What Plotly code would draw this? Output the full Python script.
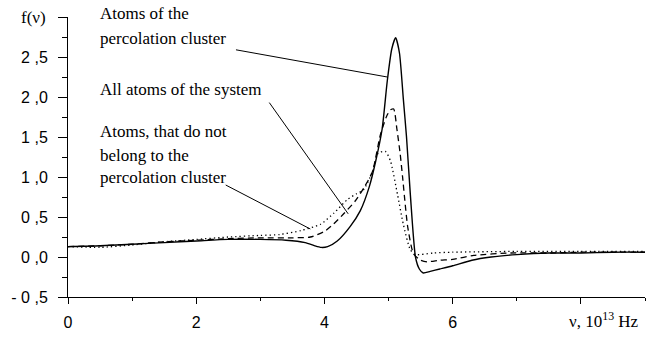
import plotly.graph_objects as go

# Atoms of the percolation cluster (solid)
x_perc = [0, 0.5, 1, 1.5, 2, 2.5, 3, 3.4, 3.7, 3.85, 3.95, 4.05, 4.2, 4.4, 4.56, 4.7, 4.8, 4.9, 4.98,
          5.05, 5.11, 5.17, 5.23, 5.28, 5.34, 5.42, 5.48, 5.54, 5.65, 5.8, 6.0, 6.3, 6.6, 7.0, 7.5, 8, 8.5, 9]
y_perc = [0.13, 0.14, 0.16, 0.18, 0.2, 0.22, 0.22, 0.21, 0.18, 0.14, 0.12, 0.13, 0.2, 0.38, 0.58, 0.88, 1.2, 1.6, 2.2,
          2.6, 2.74, 2.55, 1.98, 1.5, 0.78, 0.0, -0.15, -0.2, -0.18, -0.15, -0.11, -0.04, 0.0, 0.03, 0.05, 0.05, 0.06, 0.06]

# All atoms of the system (dashed)
x_all = [0, 0.5, 1, 1.5, 2, 2.5, 3, 3.5, 3.78, 4.0, 4.14, 4.3, 4.48, 4.62, 4.75, 4.87, 4.97, 5.03, 5.08,
         5.13, 5.18, 5.22, 5.3, 5.39, 5.5, 5.6, 5.8, 6.0, 6.33, 6.9, 7.5, 8, 9]
y_all = [0.13, 0.14, 0.16, 0.19, 0.21, 0.23, 0.24, 0.24, 0.25, 0.32, 0.41, 0.54, 0.7, 0.87, 1.07, 1.52, 1.76, 1.84, 1.85,
         1.6, 1.3, 0.99, 0.37, 0.04, -0.04, -0.06, -0.04, -0.03, 0.02, 0.05, 0.05, 0.06, 0.06]

# Atoms not belonging to the percolation cluster (dotted)
x_non = [0, 0.5, 1, 1.5, 2, 2.5, 3, 3.3, 3.63, 3.94, 4.15, 4.36, 4.5, 4.61, 4.75, 4.84, 4.95, 5.03, 5.14,
         5.23, 5.34, 5.42, 5.7, 6, 7, 8, 9]
y_non = [0.13, 0.12, 0.15, 0.19, 0.22, 0.25, 0.27, 0.28, 0.33, 0.41, 0.55, 0.72, 0.79, 0.84, 1.07, 1.3, 1.32, 1.2, 0.78,
         0.41, 0.09, 0.03, 0.05, 0.06, 0.07, 0.07, 0.07]

y_tickvals = [-0.5, 0.0, 0.5, 1.0, 1.5, 2.0, 2.5, 3.0]
y_ticktext = ["- 0 ,5", "0 ,0", "0 ,5", "1 ,0", "1 ,5", "2 ,0", "2 ,5", ""]
x_tickvals = [0, 2, 4, 6, 8]
x_ticktext = ["0", "2", "4", "6", ""]

SERIF = "Liberation Serif, Times New Roman, serif"
SANS = "Liberation Sans, Arial, sans-serif"

Y0, Y1 = -0.5, 3.0

fig = go.Figure()
fig.add_trace(go.Scatter(x=x_non, y=y_non, mode="lines",
                         line=dict(color="black", width=1.3, dash="1.3px,3px", shape="spline", smoothing=0.6)))
fig.add_trace(go.Scatter(x=x_all, y=y_all, mode="lines",
                         line=dict(color="black", width=1.3, dash="6px,4px", shape="spline", smoothing=0.6)))
fig.add_trace(go.Scatter(x=x_perc, y=y_perc, mode="lines",
                         line=dict(color="black", width=1.4, shape="spline", smoothing=0.6)))

# leader lines for labels
leaders = [((2.62, 2.59), (4.98, 2.25)),
           ((3.14, 1.93), (4.37, 0.54)),
           ((2.46, 0.90), (3.78, 0.35))]
for (x0, y0), (x1, y1) in leaders:
    fig.add_shape(type="line", x0=x0, y0=y0, x1=x1, y1=y1, xref="x", yref="y",
                  line=dict(color="black", width=1))

labels = [("Atoms of the", 3.04), ("percolation cluster", 2.73),
          ("All atoms of the system", 2.09),
          ("Atoms, that do not", 1.57), ("belong to the", 1.27), ("percolation cluster", 0.99)]
for txt, yy in labels:
    fig.add_annotation(x=0.47, y=(yy - Y0) / (Y1 - Y0), xref="x", yref="paper", text=txt, showarrow=False,
                       xanchor="left", yanchor="middle", font=dict(family=SERIF, size=17, color="black"))

fig.add_annotation(x=0, y=1.0, xref="paper", yref="paper", text="f(\u03bd)", showarrow=False,
                   xanchor="right", yanchor="middle", xshift=-20, font=dict(family=SERIF, size=17, color="black"))
fig.add_annotation(x=1.0, y=0, xref="paper", yref="paper", text="\u03bd, 10<sup>13</sup> Hz", showarrow=False,
                   xanchor="right", yanchor="top", xshift=-4, yshift=-10,
                   font=dict(family=SERIF, size=17, color="black"))

fig.update_layout(
    width=652, height=338,
    margin=dict(l=68, r=7, t=17, b=37),
    paper_bgcolor="white", plot_bgcolor="white",
    showlegend=False,
    font=dict(family=SANS, size=16, color="black"),
    xaxis=dict(range=[0, 9], tickvals=x_tickvals, ticktext=x_ticktext, ticks="outside", ticklen=6,
               tickcolor="black", showline=True, linecolor="black", linewidth=1, showgrid=False,
               zeroline=False, ticklabelstandoff=5,
               minor=dict(dtick=1, ticks="outside", ticklen=3, tickcolor="black")),
    yaxis=dict(range=[Y0, Y1], tickvals=y_tickvals, ticktext=y_ticktext, ticks="outside", ticklen=9,
               tickcolor="black", showline=True, linecolor="black", linewidth=1, showgrid=False,
               zeroline=False, ticklabelstandoff=7,
               minor=dict(dtick=0.25, ticks="outside", ticklen=5, tickcolor="black")),
)

fig.write_html("out.html")
